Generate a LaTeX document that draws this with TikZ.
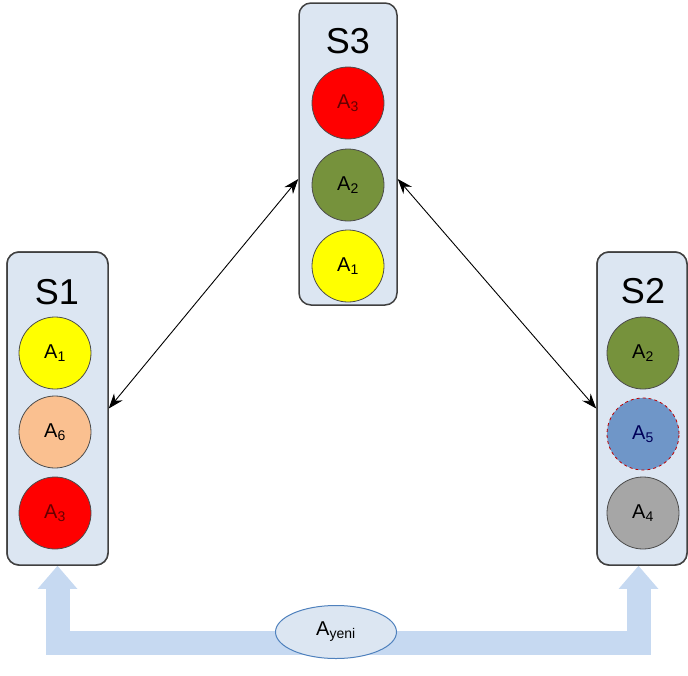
\documentclass[tikz,border=0pt]{standalone}
\usepackage{fontspec}
\setmainfont{Liberation Sans}
\usetikzlibrary{arrows.meta,shapes.geometric}

\definecolor{boxfill}{RGB}{220,230,242}
\definecolor{boxline}{RGB}{64,64,64}
\definecolor{bandblue}{RGB}{198,217,241}
\definecolor{ovalline}{RGB}{79,129,189}
\definecolor{akirmizi}{RGB}{255,0,0}
\definecolor{ayesil}{RGB}{118,146,60}
\definecolor{asari}{RGB}{255,255,0}
\definecolor{aturuncu}{RGB}{250,192,144}
\definecolor{amavi}{RGB}{111,150,200}
\definecolor{agri}{RGB}{166,166,166}

\tikzset{
  sunucu/.style={draw=boxline, line width=1.5pt, fill=boxfill, rounded corners=12pt,
    minimum width=#1, minimum height=313pt, inner sep=0pt},
  baslik/.style={font=\fontsize{36}{36}\selectfont, inner sep=0pt},
  nesne/.style={circle, draw=black!70, line width=0.8pt, fill=#1, minimum size=72pt,
    inner sep=0pt, font=\fontsize{20}{20}\selectfont},
  yol/.style={draw=bandblue, line width=24pt,
    {Triangle[length=23pt,width=38pt]}-{Triangle[length=23pt,width=38pt]}},
}

\begin{document}
\begin{tikzpicture}[x=1pt, y=-1pt, >={Stealth[length=15pt,width=11pt]}]
  \useasboundingbox (0,0) rectangle (688,675);

  % 下側の配送路（ブロック矢印）
  \node[sunucu=101pt] (s1box) at (57.5,408.5) {};
  \node[sunucu=90pt] (s2box) at (642,408.5) {};
  \path[yol] (s1box.south) -- (57.5,643) -- (638.5,643) -- ([xshift=-3.5pt]s2box.south);
  \node[sunucu=101pt] at (s1box) {};
  \node[sunucu=90pt] at (s2box) {};
  \node[draw=ovalline, line width=1pt, fill=boxfill, ellipse, minimum width=121pt,
    minimum height=53pt, inner sep=0pt, font=\fontsize{20}{20}\selectfont] (ayeni)
    at (336,632) {A\textsubscript{yeni}};

  % S3 sunucusu
  \node[sunucu=98pt, minimum height=302pt] (s3box) at (348,154) {};
  \node[baslik] (s3) at (348,41.5) {S3};
  \node[nesne=akirmizi, text=red!40!black] (s3a3) at (348,103) {A\textsubscript{3}};
  \node[nesne=ayesil] (s3a2) at (348,185) {A\textsubscript{2}};
  \node[nesne=asari] (s3a1) at (348,266) {A\textsubscript{1}};

  % S1 sunucusu
  \node[baslik] (s1) at (57,292) {S1};
  \node[nesne=asari] (s1a1) at (55,353) {A\textsubscript{1}};
  \node[nesne=aturuncu] (s1a6) at (55,432) {A\textsubscript{6}};
  \node[nesne=akirmizi, text=red!40!black] (s1a3) at (55,513) {A\textsubscript{3}};

  % S2 sunucusu
  \node[baslik] (s2) at (643,291.5) {S2};
  \node[nesne=ayesil] (s2a2) at (643,353) {A\textsubscript{2}};
  \node[nesne=amavi, draw=red!75!black, dashed, text=blue!35!black] (s2a5) at (643,434) {A\textsubscript{5}};
  \node[nesne=agri] (s2a4) at (643,513) {A\textsubscript{4}};

  % 複製の双方向リンク
  \coordinate (s3sol) at (s3box.west |- 0,179);
  \coordinate (s3sag) at (s3box.east |- 0,179);
  \draw[<->, line width=0.9pt] (s1box.east) -- (s3sol);
  \draw[<->, line width=0.9pt] (s3sag) -- (s2box.west);
\end{tikzpicture}
\end{document}
